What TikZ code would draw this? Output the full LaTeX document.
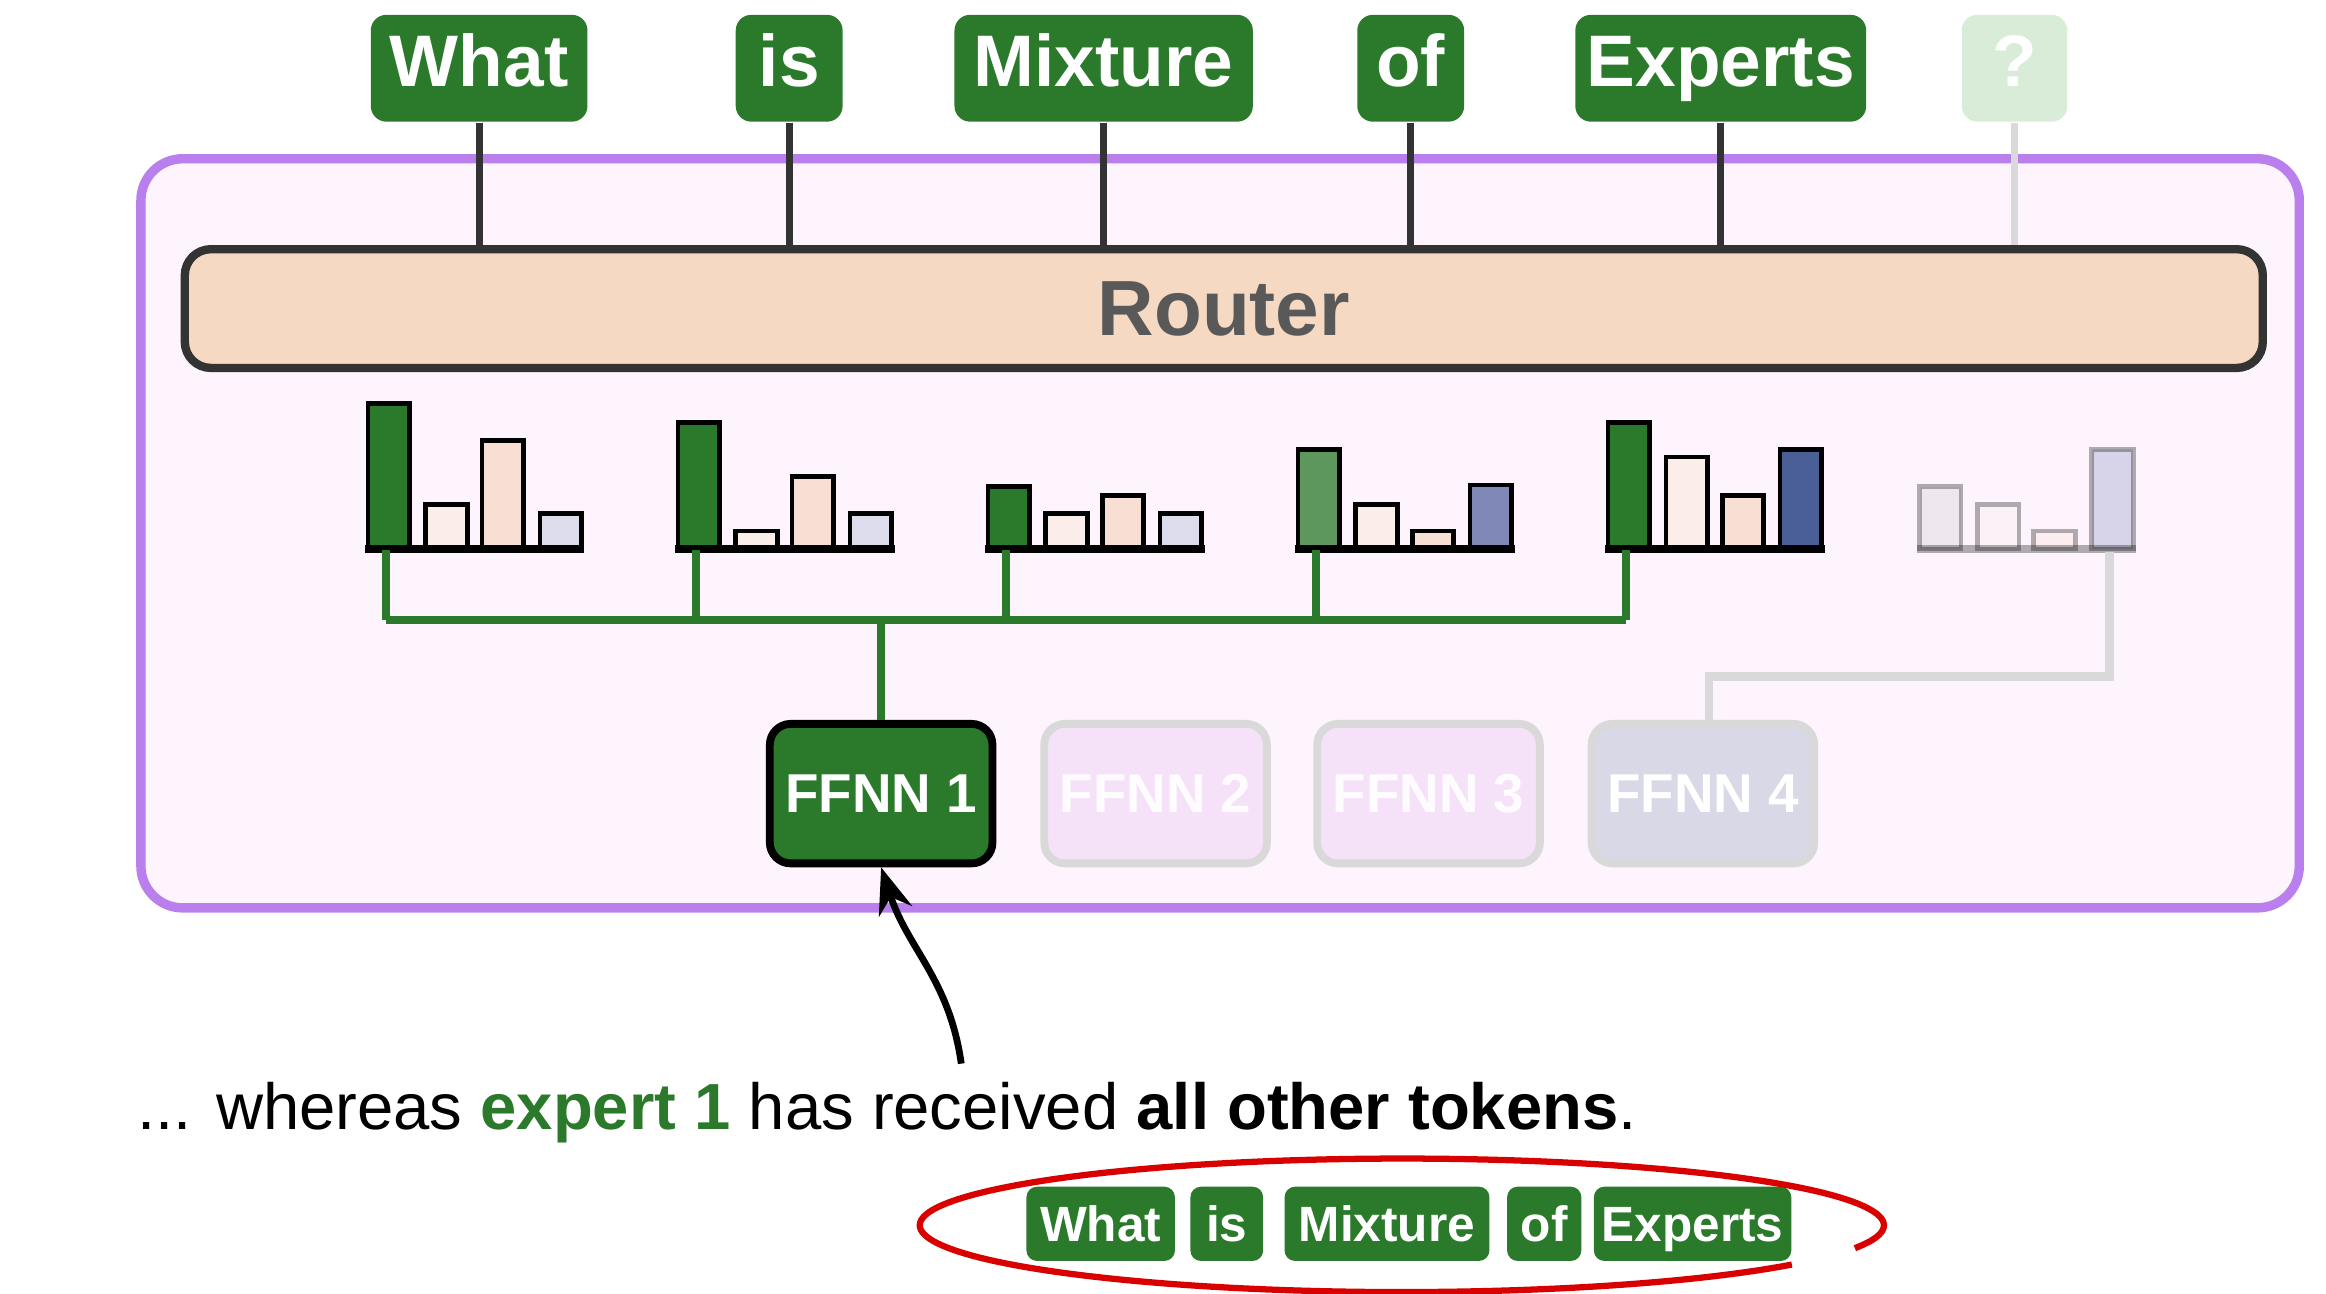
\documentclass[tikz,border=0pt]{standalone}
\usepackage{fontspec}
\setmainfont{Liberation Sans}
\usetikzlibrary{arrows.meta,positioning}
\definecolor{tokgreen}{HTML}{2B7A2B}
\definecolor{fadegreen}{HTML}{D8ECD8}
\definecolor{moepurple}{HTML}{B97FEC}
\definecolor{moefill}{HTML}{FDF4FD}
\definecolor{routerfill}{HTML}{F6D9C2}
\definecolor{barpink}{HTML}{FBEDEA}
\definecolor{barpeach}{HTML}{F7DFD3}
\definecolor{barlav}{HTML}{DCDCEC}
\definecolor{midgreen}{HTML}{5E975E}
\definecolor{midblue}{HTML}{8088B8}
\definecolor{darkblue}{HTML}{4A5F95}
\definecolor{ffnnpink}{HTML}{F6E2F8}
\definecolor{ffnngray}{HTML}{D8D8E6}
\tikzset{
  >=Stealth,
  token/.style={fill=tokgreen,text=white,font=\fontsize{14}{16}\bfseries\selectfont,minimum height=0.72cm,inner sep=0,rounded corners=3pt,text height=1.6ex,text depth=0.3ex},
  smalltoken/.style={fill=tokgreen,text=white,font=\fontsize{9.5}{11}\bfseries\selectfont,minimum height=0.5cm,inner sep=0,rounded corners=2pt,text height=1.6ex,text depth=0.3ex},
  ffnn/.style={draw,line width=1.5pt,rounded corners=4pt,minimum width=1.5cm,minimum height=0.94cm,inner sep=0,text=white,font=\fontsize{10.5}{12}\bfseries\selectfont},
  stem/.style={draw=black!80,line width=1.3pt},
  route/.style={draw=tokgreen,line width=1.6pt},
  bar/.style={draw=black,line width=0.9pt}
}
\begin{document}
\begin{tikzpicture}[x=0.01cm,y=-0.01cm]
  \useasboundingbox (0,0) rectangle (1568,872);
  \draw[moepurple,line width=1.8pt,fill=moefill,rounded corners=8pt] (95,107) rectangle (1550,612);

  % input tokens
  \node (what) [token,minimum width=1.46cm] at (323,46) {What};
  \node (is) [token,minimum width=0.72cm] at (532,46) {is};
  \node (mixture) [token,minimum width=2.01cm] at (744,46) {Mixture};
  \node (of) [token,minimum width=0.72cm] at (951,46) {of};
  \node (experts) [token,minimum width=1.96cm] at (1160,46) {Experts};
  \node (query) [token,fill=fadegreen,minimum width=0.71cm] at (1358,46) {?};

  \node (router) [draw=black!80,line width=1.6pt,fill=routerfill,rounded corners=5pt,minimum width=14cm,minimum height=0.8cm,text=black!65,font=\fontsize{15}{17}\bfseries\selectfont] at (825,208) {Router};
  \foreach \t in {what,is,mixture,of,experts}
    \path [stem] (\t.south) -- (\t.south |- router.north);
  \path [draw=black!15,line width=1.3pt] (query.south) -- (query.south |- router.north);

  % expert scores per token
  \foreach \g/\a/\b/\c/\d/\ca/\cd in {0/272/340/297/346/tokgreen/barlav,1/285/358/321/346/tokgreen/barlav,2/328/346/334/346/tokgreen/barlav,3/303/340/358/327/midgreen/midblue,4/285/308/334/303/tokgreen/darkblue}{
    \begin{scope}[xshift=\g*209*0.01cm]
      \draw[bar,fill=\ca] (248,370) rectangle (276,\a);
      \draw[bar,fill=barpink] (287,370) rectangle (315,\b);
      \draw[bar,fill=barpeach] (325,370) rectangle (353,\c);
      \draw[bar,fill=\cd] (364,370) rectangle (392,\d);
      \draw[line width=1.4pt] (246,370) -- (394,370);
      \coordinate (score\g) at (260,371);
      \coordinate (fork\g) at (260,418);
    \end{scope}
  }
  \begin{scope}[xshift=1046*0.01cm,opacity=0.3]
    \draw[bar,fill=black!20] (248,370) rectangle (276,328);
    \draw[bar,fill=barpink] (287,370) rectangle (315,340);
    \draw[bar,fill=barpeach] (325,370) rectangle (353,358);
    \draw[bar,fill=midblue] (364,370) rectangle (392,303);
    \draw[line width=1.4pt] (246,370) -- (394,370);
  \end{scope}
  \coordinate (score5) at (1422,372);
  \coordinate (bend5) at (1152,456);

  % experts
  \node (ffnn1) [ffnn,fill=tokgreen,draw=black] at (594,535) {FFNN 1};
  \node (ffnn2) [ffnn,fill=ffnnpink,draw=black!15,text=white!90!ffnnpink] at (779,535) {FFNN 2};
  \node (ffnn3) [ffnn,fill=ffnnpink,draw=black!15,text=white!90!ffnnpink] at (963,535) {FFNN 3};
  \node (ffnn4) [ffnn,fill=ffnngray,draw=black!15] at (1148,535) {FFNN 4};

  \foreach \g in {0,...,4}
    \path [route] (score\g) -- (fork\g);
  \path [route] (fork0) -- (fork4);
  \path [route] (ffnn1.north |- fork0) -- (ffnn1.north);
  \path [draw=black!15,line width=1.6pt] (score5) |- (bend5) -- (bend5 |- ffnn4.north);

  \node (caption) [anchor=west,font=\fontsize{12.5}{15}\selectfont,inner sep=0] at (92,750) {... whereas \textbf{\color{tokgreen}expert 1} has received \textbf{all other tokens}.};
  \coordinate (pen) at (648,717);
  \draw[->,line width=1.3pt] (pen) .. controls (640,660) and (612,640) .. (ffnn1.south);

  % received tokens
  \node (rwhat) [smalltoken,minimum width=1cm] at (742,825) {What};
  \node (ris) [smalltoken,minimum width=0.49cm] at (827,825) {is};
  \node (rmixture) [smalltoken,minimum width=1.38cm] at (935,825) {Mixture};
  \node (rof) [smalltoken,minimum width=0.5cm] at (1041,825) {of};
  \node (rexperts) [smalltoken,minimum width=1.33cm] at (1141,825) {Experts};
  \draw[red!85!black,line width=1.2pt] (945,826) ++(36:325 and 45) arc[start angle=36,end angle=380,x radius=325,y radius=45];
\end{tikzpicture}
\end{document}
